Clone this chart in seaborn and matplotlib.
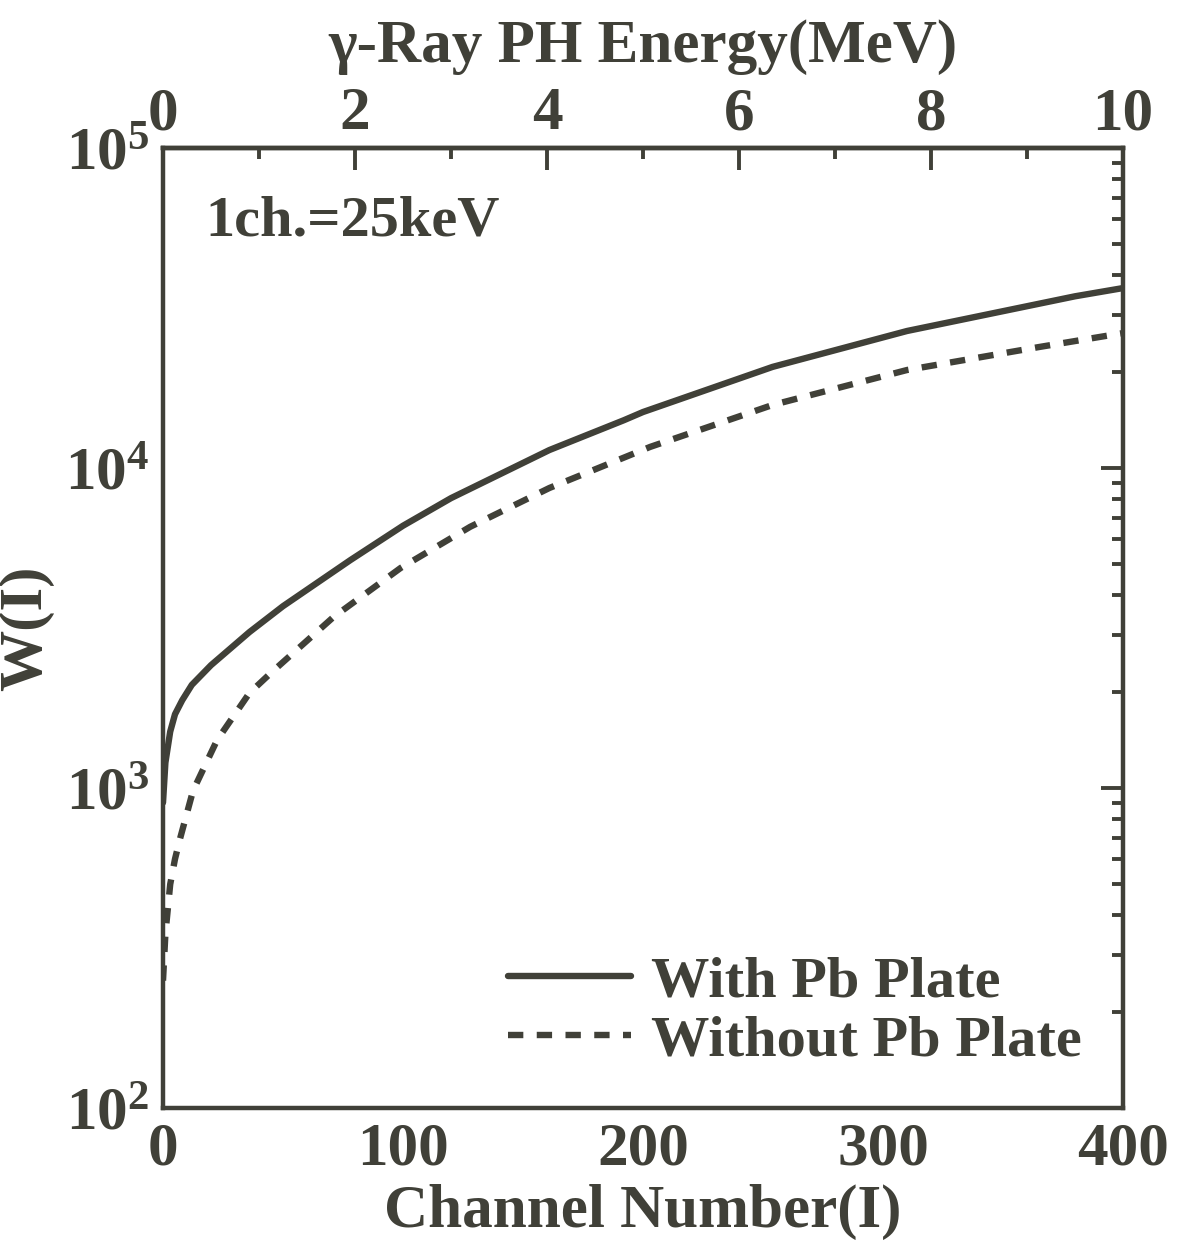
import matplotlib
matplotlib.use("Agg")
import matplotlib.pyplot as plt
import matplotlib.ticker as mticker
import seaborn as sns
import pandas as pd
import numpy as np

# ---- data ----
ch_with = [0, 1, 3, 5, 8, 12, 20, 36, 50, 78, 100, 120, 161, 192, 200, 254, 310, 380, 400]
w_with = [900, 1200, 1500, 1700, 1880, 2100, 2420, 3070, 3700, 5150, 6600, 8050, 11380,
          14100, 14960, 20700, 26800, 34400, 36500]
ch_without = [0, 1, 3, 5, 7, 12.5, 22.5, 36, 45, 71, 99, 128, 161, 203, 254, 310, 365, 400]
w_without = [250, 350, 500, 600, 690, 980, 1410, 1980, 2290, 3420, 4870, 6550, 8660,
             11640, 15740, 20240, 23880, 26400]
series_names = ["With Pb Plate", "Without Pb Plate"]
energy_major_ticks = [0, 2, 4, 6, 8, 10]
energy_minor_ticks = [1, 3, 5, 7, 9]
kev_per_channel = 25.0

sns.set_theme(style="white")
C = "#404038"
plt.rcParams.update({
    "font.family": ["Liberation Serif", "DejaVu Serif"],
    "font.weight": "bold",
    "mathtext.fontset": "custom",
    "mathtext.rm": "Liberation Serif:bold",
    "mathtext.it": "Liberation Serif:bold:italic",
    "mathtext.bf": "Liberation Serif:bold",
    "text.color": C, "axes.labelcolor": C, "xtick.color": C, "ytick.color": C,
    "axes.edgecolor": C,
})

df = pd.concat([
    pd.DataFrame({"ch": ch_with, "W": w_with, "series": series_names[0]}),
    pd.DataFrame({"ch": ch_without, "W": w_without, "series": series_names[1]}),
])

fig = plt.figure(figsize=(11.77, 12.47), dpi=100)
ax = fig.add_axes([163/1177, 1-1108/1247, 960/1177, 960/1247])

sns.lineplot(data=df, x="ch", y="W", hue="series", style="series",
             palette=[C, C], dashes={series_names[0]: "", series_names[1]: (2.4, 2.1)},
             linewidth=4.6, ax=ax, estimator=None, sort=True)

ax.set_yscale("log")
ax.set_xlim(0, 400)
ax.set_ylim(1e2, 1e5)
ax.xaxis.set_major_locator(mticker.MultipleLocator(100))
ax.xaxis.set_minor_locator(mticker.MultipleLocator(50))
ax.yaxis.set_major_locator(mticker.LogLocator(base=10))
ax.yaxis.set_minor_locator(mticker.LogLocator(base=10, subs=np.arange(2, 10)))
ax.yaxis.set_major_formatter(mticker.LogFormatterMathtext())
ax.yaxis.set_minor_formatter(mticker.NullFormatter())

for s in ax.spines.values():
    s.set_linewidth(3.2)
    s.set_color(C)

ax.tick_params(axis="both", which="major", direction="in", length=16, width=2.8,
               labelsize=44, pad=10)
ax.tick_params(axis="both", which="minor", direction="in", length=8, width=2.8)
ax.tick_params(axis="y", which="both", right=True)
ax.tick_params(axis="x", which="both", top=False)

ax.set_xlabel("Channel Number(I)", fontsize=44, fontweight="bold", labelpad=4)
ax.set_ylabel("W(I)", fontsize=44, fontweight="bold", labelpad=8)

sec = ax.secondary_xaxis("top", functions=(lambda x: x * kev_per_channel / 1000.0,
                                           lambda e: e * 1000.0 / kev_per_channel))
sec.xaxis.set_major_locator(mticker.FixedLocator(energy_major_ticks))
sec.xaxis.set_minor_locator(mticker.FixedLocator(energy_minor_ticks))
sec.tick_params(axis="x", which="major", direction="in", length=16, width=2.8,
                labelsize=44, pad=4, colors=C)
sec.tick_params(axis="x", which="minor", direction="in", length=8, width=2.8, colors=C)
sec.spines["top"].set_linewidth(3.2)
sec.spines["top"].set_color(C)
sec.set_xlabel("γ-Ray PH Energy(MeV)", fontsize=44, fontweight="bold", labelpad=18)

ax.text(0.044, 0.923, "1ch.=25keV", transform=ax.transAxes, fontsize=42,
        fontweight="bold", va="center", ha="left", color=C)

leg = ax.legend(loc="lower right", frameon=False, fontsize=42, handlelength=2.1,
                handletextpad=0.35, labelspacing=0.1, borderaxespad=0.3)
for t in leg.get_texts():
    t.set_color(C)
    t.set_fontweight("bold")

fig.savefig("out.png", dpi=100)
